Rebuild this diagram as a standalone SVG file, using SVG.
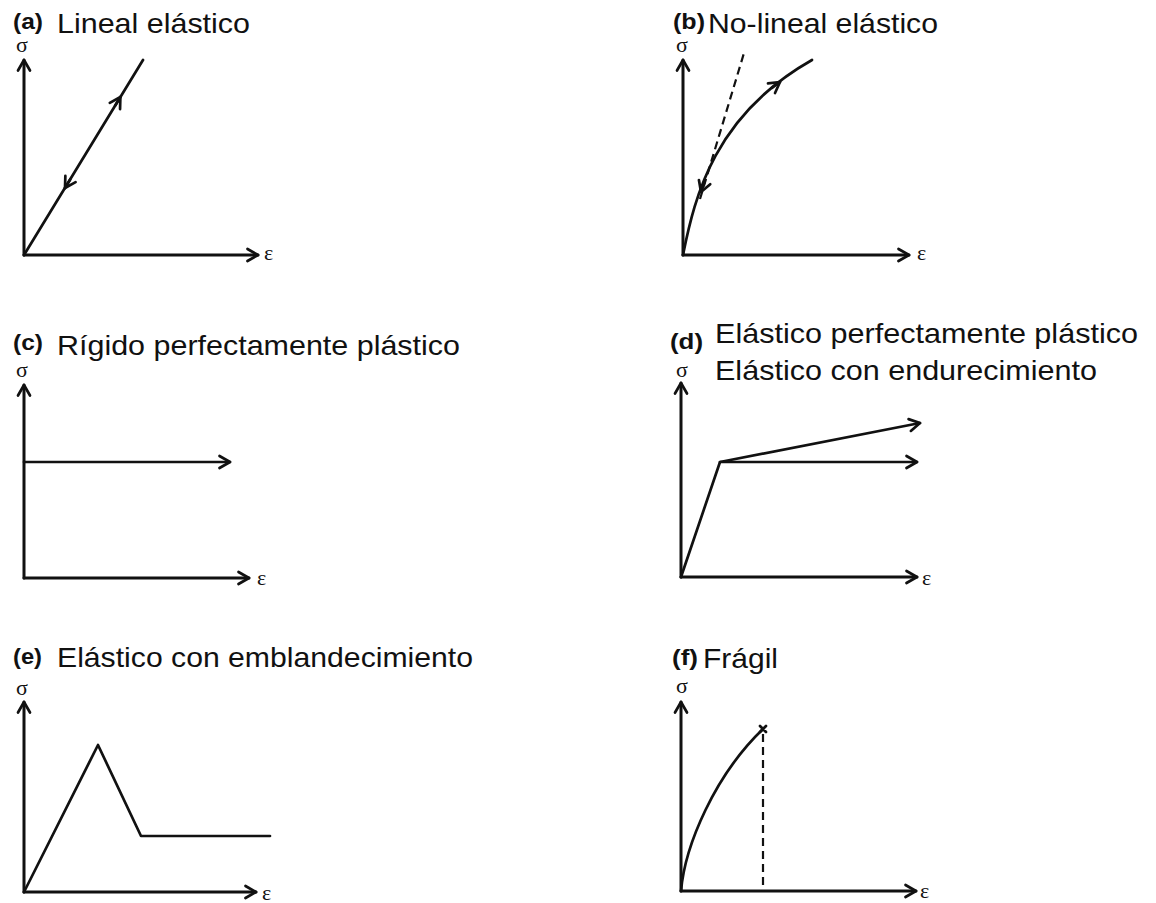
<svg xmlns="http://www.w3.org/2000/svg" width="1156" height="903" viewBox="0 0 1156 903">
<style>
.ax{fill:none;stroke:#111;stroke-width:3;stroke-linecap:round;stroke-linejoin:round}
.cv{fill:none;stroke:#111;stroke-width:2.7;stroke-linecap:round;stroke-linejoin:round}
.ds{fill:none;stroke:#111;stroke-width:2.2;stroke-dasharray:8 5}
.tt{font-family:"Liberation Sans",Arial,sans-serif;font-size:28px;fill:#111}
.lb{font-family:"Liberation Sans",Arial,sans-serif;font-size:22px;font-weight:bold;fill:#111}
.gk{font-family:"Liberation Serif","Times New Roman",serif;font-size:22px;fill:#111}
</style>
<defs>
<marker id="arr" markerUnits="userSpaceOnUse" markerWidth="16" markerHeight="16" viewBox="0 0 16 16" refX="13" refY="8" orient="auto">
<path d="M2.5,2 L13,8 L2.5,14" fill="none" stroke="#111" stroke-width="2.7" stroke-linecap="round" stroke-linejoin="round"/>
</marker>
</defs>

<g id="panel-a">
<text class="lb" x="13" y="29" textLength="30" lengthAdjust="spacingAndGlyphs">(a)</text>
<text class="tt" x="57" y="33" textLength="193" lengthAdjust="spacingAndGlyphs">Lineal elástico</text>
<text class="gk" x="16" y="52">σ</text>
<text class="gk" x="264" y="260">ε</text>
</g>
<g id="panel-b">
<text class="lb" x="673" y="29" textLength="32" lengthAdjust="spacingAndGlyphs">(b)</text>
<text class="tt" x="708" y="33" textLength="230" lengthAdjust="spacingAndGlyphs">No-lineal elástico</text>
<text class="gk" x="676" y="52">σ</text>
<text class="gk" x="917" y="260">ε</text>
</g>
<g id="panel-c">
<text class="lb" x="13" y="350" textLength="30" lengthAdjust="spacingAndGlyphs">(c)</text>
<text class="tt" x="57" y="355" textLength="403" lengthAdjust="spacingAndGlyphs">Rígido perfectamente plástico</text>
<text class="gk" x="16" y="377">σ</text>
<text class="gk" x="257" y="585">ε</text>
</g>
<g id="panel-d">
<text class="lb" x="670" y="349" textLength="33" lengthAdjust="spacingAndGlyphs">(d)</text>
<text class="tt" x="715" y="343" textLength="423" lengthAdjust="spacingAndGlyphs">Elástico perfectamente plástico</text>
<text class="tt" x="715" y="380" textLength="382" lengthAdjust="spacingAndGlyphs">Elástico con endurecimiento</text>
<text class="gk" x="676" y="377">σ</text>
<text class="gk" x="922" y="585">ε</text>
</g>
<g id="panel-e">
<text class="lb" x="13" y="664" textLength="29" lengthAdjust="spacingAndGlyphs">(e)</text>
<text class="tt" x="57" y="667" textLength="416" lengthAdjust="spacingAndGlyphs">Elástico con emblandecimiento</text>
<text class="gk" x="16" y="695">σ</text>
<text class="gk" x="262" y="900">ε</text>
</g>
<g id="panel-f">
<text class="lb" x="672" y="665" textLength="26" lengthAdjust="spacingAndGlyphs">(f)</text>
<text class="tt" x="703" y="668" textLength="75" lengthAdjust="spacingAndGlyphs">Frágil</text>
<text class="gk" x="676" y="693">σ</text>
<text class="gk" x="920" y="898">ε</text>
</g>

<g id="connectors">
<!-- axes -->
<path class="ax" d="M24,255 L24,60" marker-end="url(#arr)"/>
<path class="ax" d="M24,255 L258,255" marker-end="url(#arr)"/>
<path class="ax" d="M683,255 L683,60" marker-end="url(#arr)"/>
<path class="ax" d="M683,255 L909,255" marker-end="url(#arr)"/>
<path class="ax" d="M24,578 L24,385" marker-end="url(#arr)"/>
<path class="ax" d="M24,578 L249,578" marker-end="url(#arr)"/>
<path class="ax" d="M681,577 L681,383" marker-end="url(#arr)"/>
<path class="ax" d="M681,577 L917,577" marker-end="url(#arr)"/>
<path class="ax" d="M24,892 L24,702" marker-end="url(#arr)"/>
<path class="ax" d="M24,892 L256,892" marker-end="url(#arr)"/>
<path class="ax" d="M681,891 L681,702" marker-end="url(#arr)"/>
<path class="ax" d="M681,891 L916,891" marker-end="url(#arr)"/>

<!-- (a) -->
<path class="cv" d="M24,255 L143,60"/>
<path class="cv" d="M115.2,105.5 L120.4,97" marker-end="url(#arr)"/>
<path class="cv" d="M70.2,179.5 L65,188" marker-end="url(#arr)"/>

<!-- (b) -->
<path class="ds" d="M700,199 L744,53"/>
<path class="cv" d="M683,255 C695,195 715,115 812,60"/>
<path class="cv" d="M772,87.8 L780,82" marker-end="url(#arr)"/>
<path class="cv" d="M704.4,182.6 L701,192" marker-end="url(#arr)"/>

<!-- (c) -->
<path class="cv" d="M24,462 L230,462" marker-end="url(#arr)"/>

<!-- (d) -->
<path class="cv" d="M681,577 L720,462 L917,462" marker-end="url(#arr)"/>
<path class="cv" d="M720,462 L920,423" marker-end="url(#arr)"/>

<!-- (e) -->
<path class="cv" d="M24,892 L98,745 L141,836 L270,836"/>

<!-- (f) -->
<path class="cv" d="M681,891 C685,845 715,775 763,729"/>
<path class="cv" d="M760,726 L766,732 M766,726 L760,732" stroke-width="1.8"/>
<path class="ds" d="M763,734 L763,891" stroke-dasharray="12 6"/>
</g>
</svg>
